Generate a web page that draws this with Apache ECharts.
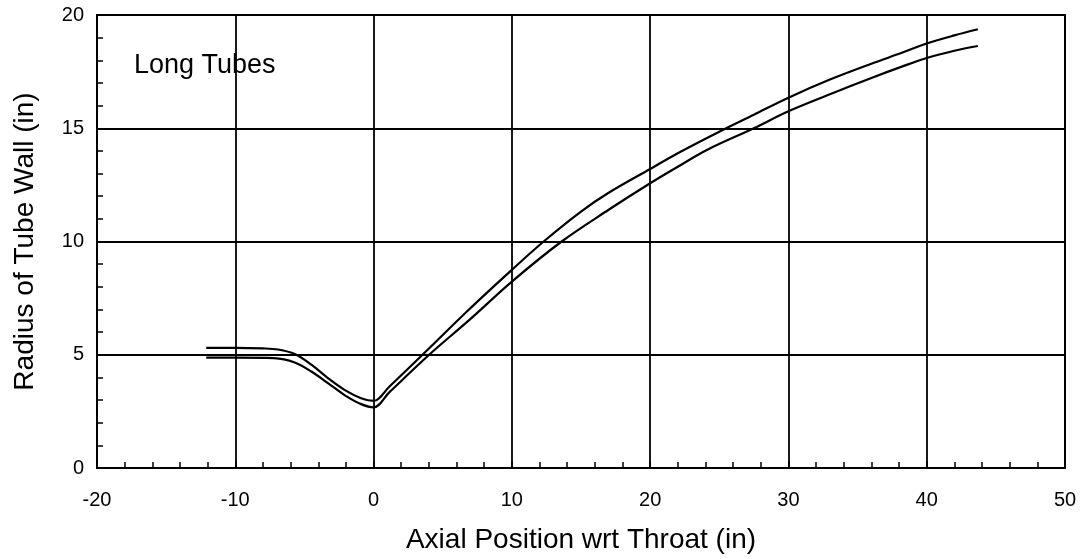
<!DOCTYPE html>
<html>
<head>
<meta charset="utf-8">
<script src="https://cdn.jsdelivr.net/npm/echarts@6/dist/echarts.min.js"></script>
<style>
html,body{margin:0;padding:0;background:#fff;}
#chart{width:1088px;height:559px;}
</style>
</head>
<body>
<div id="chart"></div>
<script>
// Axial position (in) and wall radius (in) for the two tube wall curves
const outerX = [-12.1, -10, -8, -6.9, -5.7, -4.5, -3.3, -2.1, -0.9, 0, 1.15, 3.54, 6.9, 10, 12.3, 15, 17, 20, 22, 25, 27.5, 30, 33, 36, 38.2, 40, 42, 43.7];
const outerY = [5.3, 5.3, 5.28, 5.23, 5.03, 4.56, 3.97, 3.45, 3.08, 2.96, 3.6, 5.0, 7.0, 8.75, 10.0, 11.32, 12.15, 13.2, 13.9, 14.85, 15.6, 16.35, 17.15, 17.85, 18.33, 18.74, 19.1, 19.37];
const innerX = [-12.1, -10, -7.2, -5.7, -4.5, -3.3, -2.1, -0.9, 0, 1.15, 4.02, 6.95, 10, 13.6, 17, 20, 22, 24.1, 27.5, 30, 33, 36, 38.2, 40, 42, 43.7];
const innerY = [4.87, 4.87, 4.85, 4.66, 4.26, 3.75, 3.22, 2.82, 2.68, 3.35, 5.0, 6.55, 8.23, 10.0, 11.4, 12.57, 13.3, 14.04, 15.0, 15.75, 16.5, 17.22, 17.72, 18.1, 18.42, 18.63];
const xTicks = [-20, -10, 0, 10, 20, 30, 40, 50];
const yTicks = [0, 5, 10, 15, 20];
const annotation = 'Long Tubes';
const xTitle = 'Axial Position wrt Throat (in)';
const yTitle = 'Radius of Tube Wall (in)';

const pairs = (xs, ys) => xs.map((x, i) => [x, ys[i]]);
const chart = echarts.init(document.getElementById('chart'));
const font = 'Liberation Sans, Arial, Helvetica, sans-serif';
chart.setOption({
  animation: false,
  backgroundColor: '#fff',
  grid: {left: 97, right: 23, top: 15, bottom: 91, show: true, borderColor: '#000', borderWidth: 2, backgroundColor: 'transparent'},
  xAxis: {
    type: 'value', min: xTicks[0], max: xTicks[xTicks.length - 1], interval: 10,
    name: xTitle, nameLocation: 'middle', nameGap: 58,
    nameTextStyle: {color: '#000', fontSize: 28, fontFamily: font},
    axisLine: {show: true, onZero: false, lineStyle: {color: '#000', width: 2}},
    axisTick: {show: true, inside: true, length: 7, lineStyle: {color: '#000', width: 1.5}},
    minorTick: {show: true, splitNumber: 5, length: 6, lineStyle: {color: '#000', width: 1.5}},
    axisLabel: {color: '#000', fontSize: 20, fontFamily: font, margin: 22},
    splitLine: {show: true, lineStyle: {color: '#000', width: 1.8}}
  },
  yAxis: {
    type: 'value', min: yTicks[0], max: yTicks[yTicks.length - 1], interval: 5,
    name: yTitle, nameLocation: 'middle', nameGap: 58, nameRotate: 90,
    nameTextStyle: {color: '#000', fontSize: 28, fontFamily: font},
    axisLine: {show: true, onZero: false, lineStyle: {color: '#000', width: 2}},
    axisTick: {show: true, inside: true, length: 7, lineStyle: {color: '#000', width: 1.5}},
    minorTick: {show: true, splitNumber: 5, length: 6, lineStyle: {color: '#000', width: 1.5}},
    axisLabel: {color: '#000', fontSize: 20, fontFamily: font, margin: 13},
    splitLine: {show: true, lineStyle: {color: '#000', width: 1.8}}
  },
  series: [
    {type: 'line', data: pairs(outerX, outerY), smooth: 0.35, showSymbol: false, lineStyle: {color: '#000', width: 2.2}},
    {type: 'line', data: pairs(innerX, innerY), smooth: 0.35, showSymbol: false, lineStyle: {color: '#000', width: 2.2}}
  ],
  graphic: [{
    type: 'text', left: 134, top: 52,
    style: {text: annotation, fill: '#000', fontSize: 27, fontFamily: font}
  }]
});
</script>
</body>
</html>
